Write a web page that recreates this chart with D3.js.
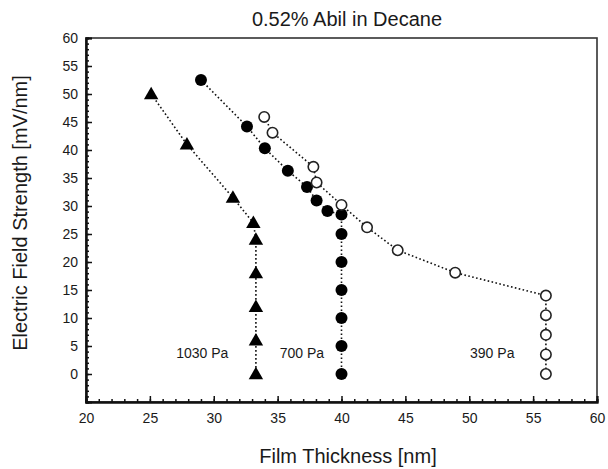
<!DOCTYPE html>
<html><head><meta charset="utf-8">
<script src="https://cdn.jsdelivr.net/npm/d3@7"></script>
<style>body{margin:0;background:#fff}svg{display:block}text{font-family:"Liberation Sans",Arial,sans-serif;fill:#1a1a1a}</style>
</head><body>
<svg id="c" width="608" height="469"></svg>
<script>
const title = "0.52% Abil in Decane";
const xTitle = "Film Thickness [nm]";
const yTitle = "Electric Field Strength [mV/nm]";
const xTicks = [20,25,30,35,40,45,50,55,60];
const yTicks = [0,5,10,15,20,25,30,35,40,45,50,55,60];

// 1030 Pa (filled triangles)
const p1030x = [25.1,27.9,31.5,33.1,33.3,33.3,33.3,33.3,33.3];
const p1030y = [50,41,31.5,27,24,18,12,6,0];
// 700 Pa (filled circles)
const p700x = [29.0,32.6,34.0,35.8,37.3,38.05,38.9,40.0,40.0,40.0,40.0,40.0,40.0,40.0];
const p700y = [52.5,44.2,40.3,36.3,33.4,31.0,29.1,28.5,25,20,15,10,5,0];
// 390 Pa (open circles)
const p390x = [33.95,34.6,37.8,38.05,40.0,42.0,44.4,48.9,56.0,56.0,56.0,56.0,56.0];
const p390y = [45.9,43.1,37.0,34.2,30.2,26.2,22.1,18.1,14.0,10.5,7.0,3.5,0];

const labels = [
  {text:"1030 Pa", x:29.1, y:3.8},
  {text:"700 Pa", x:36.9, y:3.8},
  {text:"390 Pa", x:51.8, y:3.8}
];

const svg = d3.select("#c");
const L=86, R=597, T=38, B=402;
const x = d3.scaleLinear().domain([20,60]).range([L,R]);
const y = d3.scaleLinear().domain([-5,60]).range([B,T]);

// frame
svg.append("rect").attr("x",L).attr("y",T).attr("width",R-L).attr("height",B-T)
  .attr("fill","none").attr("stroke","#333").attr("stroke-width",1.6);

// x axis ticks (inward)
const xAxisMinor = d3.axisBottom(x).tickValues(d3.range(20,61,1)).tickSize(-3).tickFormat("");
const xAxisMajor = d3.axisBottom(x).tickValues(xTicks).tickSize(-6).tickPadding(12);
const gx1 = svg.append("g").attr("transform",`translate(0,${B})`).call(xAxisMinor);
const gx2 = svg.append("g").attr("transform",`translate(0,${B})`).call(xAxisMajor);
[gx1,gx2].forEach(g=>{g.select(".domain").attr("stroke","#111").attr("stroke-width",2);
  g.selectAll(".tick line").attr("stroke","#111").attr("stroke-width",1.5);});
gx2.selectAll(".tick text").attr("font-size",14).attr("fill","#333").attr("dy","0.35em").attr("y",16)
  .style("font-family","Liberation Sans, Arial, sans-serif");

const yAxisMinor = d3.axisLeft(y).tickValues(d3.range(-5,61,1)).tickSize(-3).tickFormat("");
const yAxisMajor = d3.axisLeft(y).tickValues(yTicks).tickSize(-6).tickPadding(9);
const gy1 = svg.append("g").attr("transform",`translate(${L},0)`).call(yAxisMinor);
const gy2 = svg.append("g").attr("transform",`translate(${L},0)`).call(yAxisMajor);
[gy1,gy2].forEach(g=>{g.select(".domain").attr("stroke","#111").attr("stroke-width",2);
  g.selectAll(".tick line").attr("stroke","#111").attr("stroke-width",1.5);});
gy2.selectAll(".tick text").attr("font-size",14).attr("fill","#333").attr("x",-8)
  .style("font-family","Liberation Sans, Arial, sans-serif");

// titles
svg.append("text").attr("x",347).attr("y",26).attr("text-anchor","middle").attr("font-size",20).text(title);
svg.append("text").attr("x",348).attr("y",463).attr("text-anchor","middle").attr("font-size",20).text(xTitle);
svg.append("text").attr("transform","translate(27,213) rotate(-90)").attr("text-anchor","middle").attr("font-size",20).text(yTitle);

const line = d3.line().x(d=>x(d[0])).y(d=>y(d[1]));
function series(xs, ys){ return xs.map((v,i)=>[v, ys[i]]); }
const s1030 = series(p1030x,p1030y), s700 = series(p700x,p700y), s390 = series(p390x,p390y);

[s1030,s700,s390].forEach(s=>{
  svg.append("path").datum(s).attr("d",line).attr("fill","none").attr("stroke","#111")
    .attr("stroke-width",1.6).attr("stroke-dasharray","1.6,2.4");
});

const tri = d3.symbol().type(d3.symbolTriangle).size(90);
svg.append("g").selectAll("path").data(s1030).join("path")
  .attr("d",tri).attr("transform",d=>`translate(${x(d[0])},${y(d[1])+1})`).attr("fill","#000");
svg.append("g").selectAll("circle").data(s700).join("circle")
  .attr("cx",d=>x(d[0])).attr("cy",d=>y(d[1])).attr("r",6).attr("fill","#000");
svg.append("g").selectAll("circle").data(s390).join("circle")
  .attr("cx",d=>x(d[0])).attr("cy",d=>y(d[1])).attr("r",5.2).attr("fill","#fff")
  .attr("stroke","#222").attr("stroke-width",1.6);

svg.append("g").selectAll("text").data(labels).join("text")
  .attr("x",d=>x(d.x)).attr("y",d=>y(d.y)).attr("text-anchor","middle").attr("dy","0.35em")
  .attr("font-size",14).attr("fill","#333").text(d=>d.text);
</script>
</body></html>
